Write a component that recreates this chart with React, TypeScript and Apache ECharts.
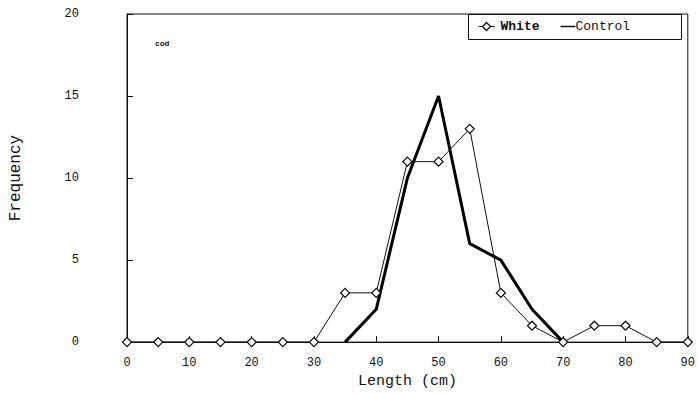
import React, { useEffect, useRef } from "react";
import * as echarts from "echarts";

// Length classes (cm)
const lengths = [0, 5, 10, 15, 20, 25, 30, 35, 40, 45, 50, 55, 60, 65, 70, 75, 80, 85, 90];
// Frequency of fish per length class
const whiteFreq = [0, 0, 0, 0, 0, 0, 0, 3, 3, 11, 11, 13, 3, 1, 0, 1, 1, 0, 0];
const controlFreq: (number | null)[] = [null, null, null, null, null, null, null, 0, 2, 10, 15, 6, 5, 2, 0, null, null, null, null];
const yTicks = [0, 5, 10, 15, 20];
const xTicks = [0, 10, 20, 30, 40, 50, 60, 70, 80, 90];

const FONT = "Liberation Mono";
const INK = "#111";

export default function App() {
  const ref = useRef<HTMLDivElement>(null);

  useEffect(() => {
    if (!ref.current) return;
    const chart = echarts.init(ref.current, null, { renderer: "svg" });
    chart.setOption({
      animation: false,
      backgroundColor: "#fff",
      textStyle: { fontFamily: FONT, color: INK },
      grid: { left: 127, right: 9, top: 14, bottom: 51, show: true, borderColor: INK, borderWidth: 1 },
      graphic: [
        {
          type: "text",
          left: 155,
          top: 39,
          style: { text: "cod", font: "bold 8px " + FONT, fill: INK },
        },
        // legend box
        {
          type: "group",
          left: 468,
          top: 14,
          children: [
            { type: "rect", shape: { x: 0, y: 0, width: 213, height: 25 }, style: { fill: "#fff", stroke: INK, lineWidth: 1 } },
            { type: "line", shape: { x1: 10, y1: 12, x2: 26, y2: 12 }, style: { stroke: INK, lineWidth: 1 } },
            { type: "polygon", shape: { points: [[18, 8], [22, 12], [18, 16], [14, 12]] }, style: { fill: "#fff", stroke: INK, lineWidth: 1.3 } },
            { type: "text", x: 32, y: 12, style: { text: "White", font: "bold 13px " + FONT, fill: INK, verticalAlign: "middle" } },
            { type: "line", shape: { x1: 92, y1: 12, x2: 107, y2: 12 }, style: { stroke: INK, lineWidth: 1.5 } },
            { type: "text", x: 107, y: 12, style: { text: "Control", font: "13px " + FONT, fill: INK, verticalAlign: "middle" } },
          ],
        },
      ],
      xAxis: {
        type: "value",
        min: 0,
        max: 90,
        interval: 10,
        name: "Length (cm)",
        nameLocation: "middle",
        nameGap: 30,
        nameTextStyle: { fontFamily: FONT, fontSize: 15, color: INK },
        axisLine: { show: true, lineStyle: { color: INK } },
        axisTick: { inside: true, length: 6, lineStyle: { color: INK } },
        axisLabel: {
          fontFamily: FONT,
          fontSize: 12,
          color: INK,
          margin: 15,
          formatter: (v: number) => (xTicks.includes(v) ? String(v) : ""),
        },
        splitLine: { show: false },
      },
      yAxis: {
        type: "value",
        min: 0,
        max: 20,
        interval: 5,
        name: "Frequency",
        nameLocation: "middle",
        nameGap: 103,
        nameTextStyle: { fontFamily: FONT, fontSize: 16, color: INK },
        axisLine: { show: true, lineStyle: { color: INK } },
        axisTick: { inside: true, length: 6, lineStyle: { color: INK } },
        axisLabel: {
          fontFamily: FONT,
          fontSize: 12,
          color: INK,
          margin: 48,
          formatter: (v: number) => (yTicks.includes(v) ? String(v) : ""),
        },
        splitLine: { show: false },
      },
      series: [
        {
          name: "White",
          type: "line",
          data: lengths.map((x, i) => [x, whiteFreq[i]]),
          symbol: "diamond",
          symbolSize: [9, 9],
          showAllSymbol: true,
          lineStyle: { color: INK, width: 1 },
          itemStyle: { color: "#fff", borderColor: INK, borderWidth: 1.3 },
          z: 3,
        },
        {
          name: "Control",
          type: "line",
          data: lengths.map((x, i) => [x, controlFreq[i]]),
          symbol: "none",
          connectNulls: false,
          lineStyle: { color: "#000", width: 3 },
          z: 2,
        },
      ],
    });
    return () => chart.dispose();
  }, []);

  return (
    <div
      ref={ref}
      style={{ position: "absolute", left: 0, top: 0, width: 698, height: 394 }}
    />
  );
}
